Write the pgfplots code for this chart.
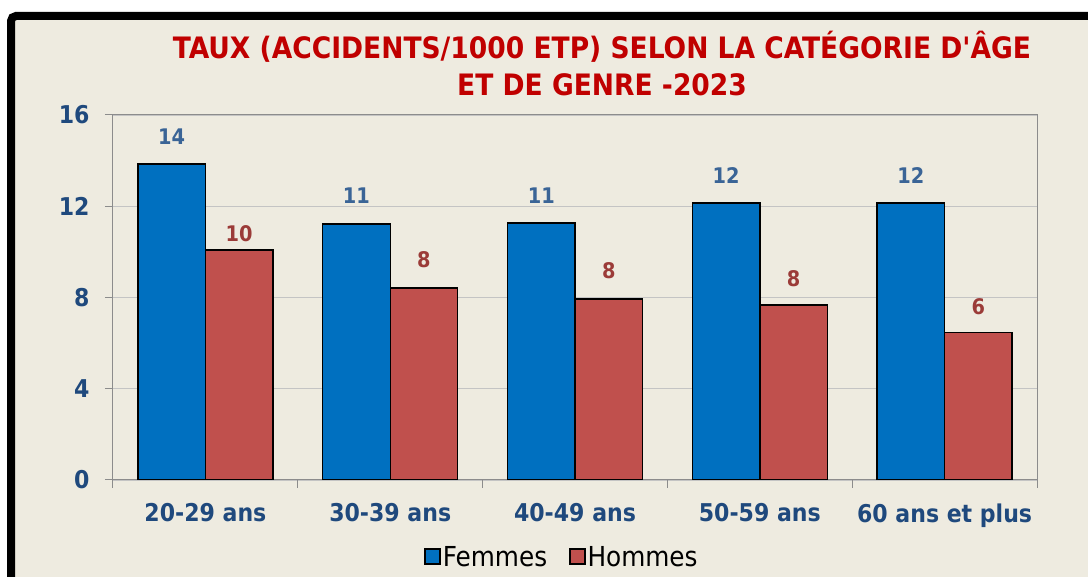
\documentclass[border=0pt]{standalone}
\usepackage{fontspec}
\setmainfont{DejaVu Sans Condensed}[Ligatures=TeXOff]
\usepackage{pgfplots}
\pgfplotsset{compat=1.18}
\definecolor{bgc}{HTML}{EEEBE0}
\definecolor{fem}{HTML}{0070C0}
\definecolor{hom}{HTML}{C0504D}
\definecolor{tick}{HTML}{1F497D}
\definecolor{lblb}{HTML}{3A6496}
\definecolor{lblr}{HTML}{9B3B38}
\definecolor{ttl}{HTML}{C00000}
\definecolor{axc}{HTML}{8C8C8C}
\definecolor{grd}{HTML}{C4C4C4}
\pgfplotstableread{
x y lab sh
0 13.85 14 27
1 11.23 11 28
2 11.27 11 27
3 12.15 12 27
4 12.15 12 27
}\femmes
\pgfplotstableread{
x y lab sh
0 10.09 10 16
1 8.42 8 28
2 7.94 8 28
3 7.67 8 26
4 6.47 6 26
}\hommes
\begin{document}
\begin{tikzpicture}[x=1pt,y=1pt]
\useasboundingbox (0,0) rectangle (1088,577);
\fill[white] (0,0) rectangle (1088,577);
\fill[bgc] (15,0) rectangle (1088,558);
\draw[black, line width=8pt, rounded corners=5pt] (11,-5) -- (11,561) -- (1095,561);
\node[text=ttl, font=\fontsize{29.5}{37}\selectfont\bfseries, align=center] at (602,513) {TAUX (ACCIDENTS/1000 ETP) SELON LA CATÉGORIE D'ÂGE\\ET DE GENRE -2023};
\begin{axis}[
  at={(113pt,97pt)}, anchor=south west, scale only axis,
  width=924pt, height=365pt,
  ybar=0pt, bar width=67.5pt,
  xmin=-0.5, xmax=4.5, ymin=0, ymax=16,
  ytick={0,4,...,16},
  xtick={0,...,4},
  xticklabels={20-29 ans,30-39 ans,40-49 ans,50-59 ans,60 ans et plus},
  minor xtick={-0.5,0.5,...,4.5},
  major x tick style={draw=none},
  xtick pos=bottom, ytick pos=left,
  tick align=outside,
  major tick length=8pt, minor tick length=8pt,
  tick style={axc, line width=1pt},
  axis line style={axc, line width=1pt},
  ymajorgrids, grid style={grd, line width=0.8pt},
  tick label style={text=tick, font=\fontsize{24.5}{24}\selectfont\bfseries},
  /pgf/number format/assume math mode=true,
  xticklabel style={yshift=-12pt},
  yticklabel style={xshift=-12pt},
  axis background/.style={fill=bgc},
  nodes near coords,
  point meta=explicit symbolic,
  visualization depends on={\thisrow{sh}\as\mysh},
  nodes near coords style={anchor=center, yshift=\mysh pt, font=\fontsize{21.5}{21}\selectfont\bfseries},
  legend style={at={(0.486,-0.211)}, anchor=center, draw=none, fill=none,
    legend columns=2, font=\fontsize{27.5}{27}\selectfont,
    /tikz/every odd column/.append style={column sep=0pt},
    /tikz/every even column/.append style={column sep=20pt},
    nodes={inner sep=2pt}},
  legend image code/.code={\draw[#1, draw=black, line width=1.4pt] (0pt,-7pt) rectangle (15pt,8pt);},
]
\addplot[fill=fem, draw=black, line width=1.4pt, nodes near coords style={text=lblb}]
  table[x=x, y=y, meta=lab] {\femmes};
\addplot[fill=hom, draw=black, line width=1.4pt, nodes near coords style={text=lblr}]
  table[x=x, y=y, meta=lab] {\hommes};
\legend{Femmes,Hommes}
\end{axis}
\end{tikzpicture}
\end{document}
